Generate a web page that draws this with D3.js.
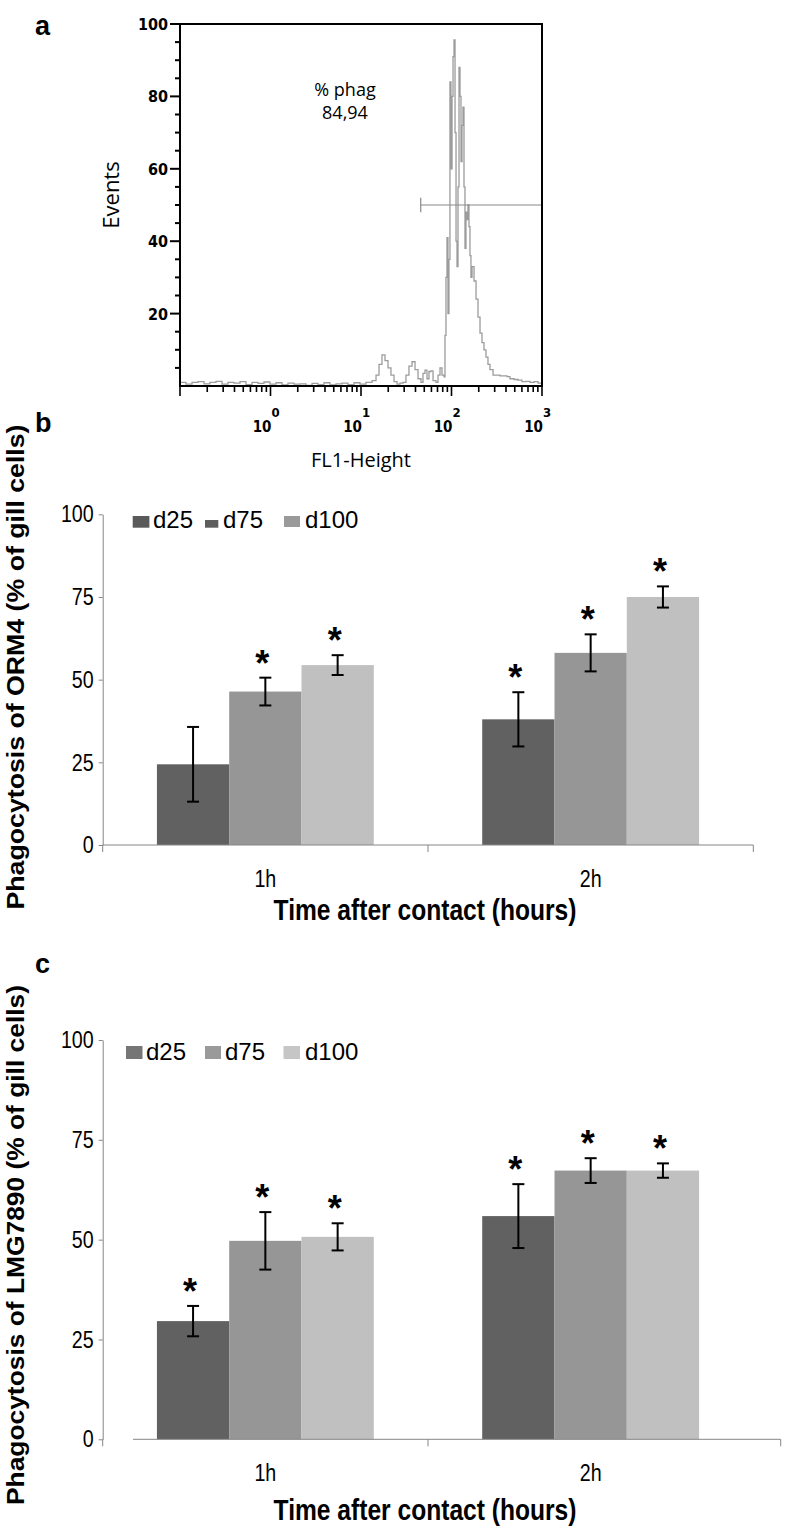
<!DOCTYPE html>
<html><head><meta charset="utf-8">
<script src="https://cdn.jsdelivr.net/npm/d3@7"></script>
<style>body{margin:0;background:#fff} svg{display:block}</style>
</head><body>
<svg id="chart" width="787" height="1529"></svg>
<script>
// ---------- DATA ----------
// Panel a: flow cytometry histogram (log10 of FL1-Height channel, events)
const histLogFL1 = [-1.000,-0.934,-0.867,-0.801,-0.735,-0.669,-0.602,-0.536,-0.470,-0.403,-0.337,-0.271,-0.204,-0.138,-0.072,-0.006,0.061,0.127,0.193,0.260,0.326,0.392,0.459,0.525,0.591,0.657,0.724,0.790,0.856,0.923,0.989,1.055,1.122,
  1.166,1.199,1.232,1.265,1.298,1.331,1.365,1.398,1.431,1.464,
  1.497,1.530,1.564,1.597,1.630,1.663,1.685,1.707,1.729,1.751,1.773,1.796,1.829,1.851,1.873,1.895,1.917,
  1.928,1.939,1.950,1.961,1.972,1.983,1.994,2.006,2.017,2.028,2.039,2.050,2.061,2.072,2.083,2.094,2.105,2.116,2.127,2.138,2.149,2.160,2.171,2.182,2.193,2.204,2.215,2.227,2.249,2.271,2.293,2.315,2.337,2.359,2.381,2.403,2.425,2.459,2.492,2.536,2.580,2.613,2.646,2.691,2.735,2.779,2.823,2.867,2.912,2.956,2.989];
const histEvents = [1,0.5,1,1.2,0.6,1,1.3,0.5,1,0.8,1.2,0.4,1,0.7,1.1,0.5,0.9,0.3,0.8,0.5,0.6,0.2,0.7,0.4,0.9,0.3,0.6,0.8,0.4,0.9,0.5,1,1.5,
  3,6,8.6,7,5,3,1.2,0.5,0.8,1,
  3,5.5,6.7,4.5,2,1,3.5,4.4,2,4,4.2,1.5,1,3,5,3,2.5,
  14,30,41,20,35,84,60,80,91,95.6,70,40,33,55,88,80,62,72,77,55,38,48,46,50,44,36,30,33,29,24,19,14.6,12,10,8,6,4.5,3,3,2.8,2.8,2.6,2,1.8,1.6,1.2,1.3,1,1.2,0.8,1];
const gateFL1 = [45.7, 1000];
const gateLevel = 50;
const histYTicks = [20, 40, 60, 80, 100];
const histXTicks = [1, 10, 100, 1000];
const histXTickExp = ["0", "1", "2", "3"];

// Panels b & c
const categories = ["1h", "2h"];
const seriesNames = ["d25", "d75", "d100"];
const barYTicks = [0, 25, 50, 75, 100];

const orm4D25 = [24.4, 38.0];
const orm4D75 = [46.4, 58.1];
const orm4D100 = [54.4, 75.0];
const orm4D25Err = [11.3, 8.2];
const orm4D75Err = [4.2, 5.6];
const orm4D100Err = [3.0, 3.2];
const orm4D25Sig = [false, true];
const orm4D75Sig = [true, true];
const orm4D100Sig = [true, true];

const lmgD25 = [29.6, 55.9];
const lmgD75 = [49.7, 67.3];
const lmgD100 = [50.7, 67.3];
const lmgD25Err = [3.8, 8.0];
const lmgD75Err = [7.2, 3.1];
const lmgD100Err = [3.4, 1.8];
const lmgD25Sig = [true, true];
const lmgD75Sig = [true, true];
const lmgD100Sig = [true, true];

// ---------- DRAW ----------
const svg = d3.select("#chart");
const SANS = "'Liberation Sans',Arial,sans-serif";
const HUM = "'Open Sans','Noto Sans',sans-serif";
const MONO = "'DejaVu Sans Condensed','DejaVu Sans',sans-serif";
const NX = 0.82; // horizontal squeeze to imitate Arial Narrow

function narrow(g, x, y, txt, size, anchor, bold) {
  return g.append("text").attr("transform", `translate(${x},${y}) scale(${NX},1)`)
    .attr("text-anchor", anchor).attr("font-family", SANS).attr("font-size", size)
    .attr("font-weight", bold ? "bold" : "normal").text(txt);
}

// panel letters
[["a", 35], ["b", 432], ["c", 973]].forEach(([t, y]) => {
  svg.append("text").attr("x", 35).attr("y", y).text(t)
    .attr("font-family", SANS).attr("font-weight", "bold").attr("font-size", 27);
});

// ----- Panel a -----
(function () {
  const x = d3.scaleLog().domain([0.1, 1000]).range([180, 542]);
  const y = d3.scaleLinear().domain([0, 100]).range([386, 24]);
  const g = svg.append("g");

  const pts = histLogFL1.map((v, i) => [Math.pow(10, v), histEvents[i]]);
  g.append("path").datum(pts)
    .attr("d", d3.line().x(d => x(d[0])).y(d => y(d[1])).curve(d3.curveStepAfter))
    .attr("fill", "none").attr("stroke", "#9c9c9c").attr("stroke-width", 1.3);

  g.append("line").attr("x1", x(gateFL1[0])).attr("x2", x(gateFL1[1]))
    .attr("y1", y(gateLevel)).attr("y2", y(gateLevel)).attr("stroke", "#8a8a8a").attr("stroke-width", 1.2);
  g.append("line").attr("x1", x(gateFL1[0])).attr("x2", x(gateFL1[0]))
    .attr("y1", y(gateLevel + 2)).attr("y2", y(gateLevel - 2)).attr("stroke", "#8a8a8a").attr("stroke-width", 1.2);

  g.append("rect").attr("x", x(0.1)).attr("y", y(100))
    .attr("width", x(1000) - x(0.1)).attr("height", y(0) - y(100))
    .attr("fill", "none").attr("stroke", "#000").attr("stroke-width", 2);

  d3.range(5, 101, 5).forEach(v => {
    const major = v % 20 === 0;
    g.append("line").attr("x1", x(0.1) - (major ? 10 : 5)).attr("x2", x(0.1))
      .attr("y1", y(v)).attr("y2", y(v)).attr("stroke", "#000").attr("stroke-width", 2);
  });
  histYTicks.forEach(v => {
    g.append("text").attr("x", 168).attr("y", y(v) + 6).attr("text-anchor", "end")
      .attr("font-family", MONO).attr("font-weight", "bold")
      .attr("font-size", 16).text(v);
  });

  x.ticks().forEach(v => {
    const lg = Math.log10(v);
    const major = Math.abs(lg - Math.round(lg)) < 1e-9;
    g.append("line").attr("x1", x(v)).attr("x2", x(v))
      .attr("y1", y(0)).attr("y2", y(0) + (major ? 10 : 6)).attr("stroke", "#000").attr("stroke-width", 1.6);
  });
  histXTicks.forEach((v, i) => {
    g.append("text").attr("x", x(v) + 1).attr("y", 432).attr("text-anchor", "end")
      .attr("font-family", MONO).attr("font-weight", "bold")
      .attr("font-size", 15).text("10");
    g.append("text").attr("x", x(v) + 1).attr("y", 417)
      .attr("font-family", MONO).attr("font-weight", "bold")
      .attr("font-size", 13).text(histXTickExp[i]);
  });

  g.append("text").attr("x", 361).attr("y", 467).attr("text-anchor", "middle")
    .attr("font-family", HUM).attr("font-size", 20).text("FL1-Height");
  g.append("text").attr("transform", "translate(119,195) rotate(-90)").attr("text-anchor", "middle")
    .attr("font-family", HUM).attr("font-size", 22).text("Events");
  g.append("text").attr("x", 345).attr("y", 96).attr("text-anchor", "middle")
    .attr("font-family", HUM).attr("font-size", 18).text("% phag");
  g.append("text").attr("x", 345).attr("y", 119).attr("text-anchor", "middle")
    .attr("font-family", HUM).attr("font-size", 18).text("84,94");
})();

// ----- Bar panels -----
const barColors = ["#616161", "#969696", "#c0c0c0"];

function barPanel(opt) {
  const g = svg.append("g");
  const y = d3.scaleLinear().domain([0, 100]).range([opt.y0, opt.y100]);
  const x = d3.scaleBand().domain(categories).range([102.7, 753.3]).paddingInner(1 / 3).paddingOuter(1 / 6);
  const xs = d3.scaleBand().domain(seriesNames).range([0, x.bandwidth()]).padding(0);
  const axisCol = "#868686";

  // y axis
  const ya = g.append("g").attr("transform", "translate(102.7,0)")
    .call(d3.axisLeft(y).tickValues(barYTicks).tickSize(4).tickSizeOuter(0));
  ya.select(".domain").attr("stroke", axisCol);
  ya.selectAll(".tick line").attr("stroke", axisCol);
  ya.selectAll(".tick text").attr("font-family", SANS).attr("font-size", 24).attr("fill", "#000")
    .attr("x", -9 / NX).attr("transform", `scale(${NX},1)`);
  g.append("line").attr("x1", 102.7).attr("x2", 102.7).attr("y1", y(0)).attr("y2", y(0) + 7).attr("stroke", axisCol);

  const series = [
    { v: opt.d25, e: opt.d25Err, s: opt.d25Sig },
    { v: opt.d75, e: opt.d75Err, s: opt.d75Sig },
    { v: opt.d100, e: opt.d100Err, s: opt.d100Sig }
  ];
  series.forEach((sr, si) => {
    categories.forEach((c, ci) => {
      const bx = x(c) + xs(seriesNames[si]);
      const cx = bx + xs.bandwidth() / 2;
      g.append("rect").attr("x", bx).attr("y", y(sr.v[ci]))
        .attr("width", xs.bandwidth()).attr("height", y(0) - y(sr.v[ci])).attr("fill", barColors[si]);
      const hi = y(sr.v[ci] + sr.e[ci]), lo = y(sr.v[ci] - sr.e[ci]);
      g.append("line").attr("x1", cx).attr("x2", cx).attr("y1", hi).attr("y2", lo).attr("stroke", "#000").attr("stroke-width", 2);
      [hi, lo].forEach(yy => g.append("line").attr("x1", cx - 6).attr("x2", cx + 6).attr("y1", yy).attr("y2", yy)
        .attr("stroke", "#000").attr("stroke-width", 2));
      if (sr.s[ci]) {
        g.append("text").attr("x", cx - 3).attr("y", hi - 23 + 21).attr("text-anchor", "middle")
          .attr("font-family", SANS).attr("font-weight", "bold").attr("font-size", 36).text("*");
      }
    });
  });

  // x axis
  g.append("line").attr("x1", opt.axisStart).attr("x2", opt.axisEnd).attr("y1", y(0)).attr("y2", y(0))
    .attr("stroke", axisCol).attr("stroke-width", 1);
  [x(categories[1]) - x.step() * x.paddingInner() / 2, opt.axisEnd].forEach(tx => {
    g.append("line").attr("x1", tx).attr("x2", tx).attr("y1", y(0)).attr("y2", y(0) + 7).attr("stroke", axisCol);
  });
  categories.forEach(c => narrow(g, x(c) + x.bandwidth() / 2, y(0) + 42, c, 24, "middle", false));
  narrow(g, 425, opt.xTitleY, "Time after contact (hours)", 30, "middle", true);
  g.append("text").attr("transform", `translate(24,${opt.yTitleC}) rotate(-90)`).attr("text-anchor", "middle")
    .attr("font-family", SANS).attr("font-weight", "bold").attr("font-size", 24)
    .attr("textLength", opt.yTitleLen).attr("lengthAdjust", "spacingAndGlyphs").text(opt.yTitle);

  // legend
  opt.legend.forEach((L, i) => {
    g.append("rect").attr("x", L.x).attr("y", L.y).attr("width", L.w).attr("height", L.h).attr("fill", L.c);
    g.append("text").attr("x", L.tx).attr("y", opt.legendBase).attr("font-family", SANS).attr("font-size", 24).text(seriesNames[i]);
  });
}

barPanel({
  y0: 845, y100: 514.3, axisStart: 102.7, axisEnd: 753.3, xTitleY: 920, yTitleC: 667, yTitleLen: 485,
  yTitle: "Phagocytosis of ORM4 (% of gill cells)",
  d25: orm4D25, d75: orm4D75, d100: orm4D100,
  d25Err: orm4D25Err, d75Err: orm4D75Err, d100Err: orm4D100Err,
  d25Sig: orm4D25Sig, d75Sig: orm4D75Sig, d100Sig: orm4D100Sig,
  legendBase: 528,
  legend: [
    { x: 132.7, y: 516, w: 16.7, h: 11.7, c: "#5a5a5a", tx: 153 },
    { x: 205, y: 520, w: 13.3, h: 7.7, c: "#5d5d5d", tx: 223 },
    { x: 284, y: 516, w: 16, h: 11, c: "#9a9a9a", tx: 305 }
  ]
});

barPanel({
  y0: 1439.3, y100: 1040, axisStart: 133, axisEnd: 780.7, xTitleY: 1520, yTitleC: 1245, yTitleLen: 520,
  yTitle: "Phagocytosis of LMG7890 (% of gill cells)",
  d25: lmgD25, d75: lmgD75, d100: lmgD100,
  d25Err: lmgD25Err, d75Err: lmgD75Err, d100Err: lmgD100Err,
  d25Sig: lmgD25Sig, d75Sig: lmgD75Sig, d100Sig: lmgD100Sig,
  legendBase: 1060,
  legend: [
    { x: 126, y: 1046, w: 16.5, h: 13, c: "#767676", tx: 146 },
    { x: 205, y: 1046, w: 16, h: 13, c: "#9a9a9a", tx: 225 },
    { x: 283.5, y: 1046, w: 16.5, h: 13, c: "#c6c6c6", tx: 305 }
  ]
});
</script>
</body></html>
